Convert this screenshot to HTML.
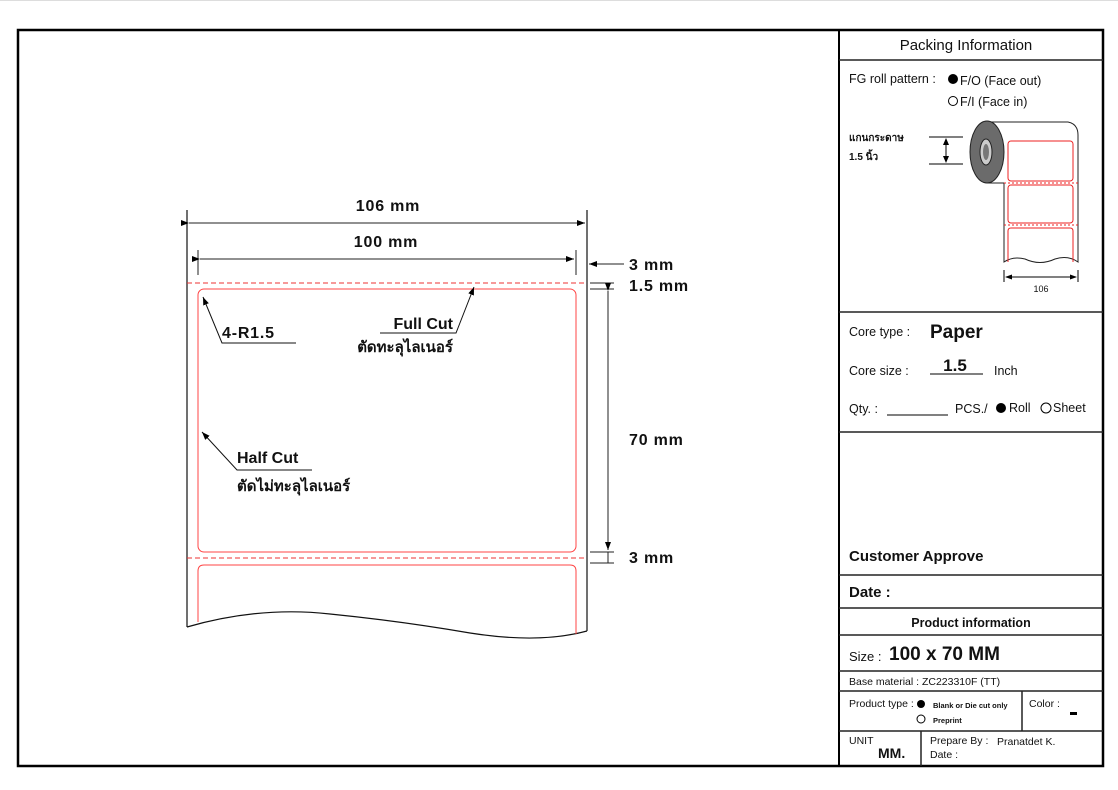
<!DOCTYPE html>
<html><head><meta charset="utf-8"><style>
html,body{margin:0;padding:0;background:#fff}
svg{display:block}
text{font-family:"Liberation Sans","Noto Sans CJK SC",sans-serif;fill:#111}
.b{font-weight:bold}
.d{letter-spacing:0.8px}
</style></head><body>
<svg width="1118" height="790" viewBox="0 0 1118 790" xmlns="http://www.w3.org/2000/svg">
<defs>
<marker id="a" markerWidth="8" markerHeight="6" refX="8" refY="3" orient="auto" markerUnits="userSpaceOnUse"><path d="M0,0 L8,3 L0,6z" fill="#000"/></marker>
</defs>
<line x1="0" y1="0.5" x2="1118" y2="0.5" stroke="#ddd"/>
<rect x="18" y="30" width="1085" height="736" fill="none" stroke="#000" stroke-width="2.5"/>
<line x1="839" y1="30" x2="839" y2="766" stroke="#000" stroke-width="2"/>
<g stroke="#222" stroke-width="1.5">
<line x1="839" y1="60" x2="1103" y2="60"/>
<line x1="839" y1="312" x2="1103" y2="312"/>
<line x1="839" y1="432" x2="1103" y2="432"/>
<line x1="839" y1="575" x2="1103" y2="575"/>
<line x1="839" y1="608" x2="1103" y2="608"/>
<line x1="839" y1="635" x2="1103" y2="635"/>
<line x1="839" y1="671" x2="1103" y2="671"/>
<line x1="839" y1="691" x2="1103" y2="691"/>
<line x1="839" y1="731" x2="1103" y2="731"/>
<line x1="1022" y1="691" x2="1022" y2="731"/>
<line x1="921" y1="731" x2="921" y2="766"/>
</g>
<text x="966" y="50" font-size="15" text-anchor="middle">Packing Information</text>
<text x="849" y="83" font-size="12.5">FG roll pattern :</text>
<circle cx="953" cy="79" r="5" fill="#000"/>
<text x="960" y="85" font-size="12.5">F/O (Face out)</text>
<circle cx="953" cy="101" r="4.5" fill="none" stroke="#000"/>
<text x="960" y="106" font-size="12.5">F/I (Face in)</text>
<text x="849" y="141" font-size="10" class="b">แกนกระดาษ</text>
<text x="849" y="160" font-size="10" class="b">1.5 นิ้ว</text>
<g stroke="#000" stroke-width="1">
<line x1="929" y1="137" x2="963" y2="137"/><line x1="929" y1="164" x2="963" y2="164"/>
<line x1="946" y1="140" x2="946" y2="161"/>
</g>
<path d="M946,138 l-3,7 h6z M946,163 l-3,-7 h6z" fill="#000"/>
<path d="M987,122 L1068,122 Q1078,124 1078,135 L1078,262 Q1068,255 1055,259 Q1040,266 1025,259 Q1013,256 1004,262 L1004,183 L987,183" fill="#fff" stroke="#222" stroke-width="1"/>
<ellipse cx="987" cy="152" rx="17" ry="31" fill="#6b6b6b" stroke="#222"/>
<ellipse cx="986" cy="152" rx="6" ry="13" fill="#ccc" stroke="#222"/>
<ellipse cx="986" cy="152" rx="3" ry="8" fill="#777"/>
<g fill="none" stroke="#e22" stroke-width="1">
<rect x="1008" y="141" width="65" height="40" rx="3"/>
<rect x="1008" y="185" width="65" height="38" rx="3"/>
<path d="M1008,262 V231 q0,-3 3,-3 H1070 q3,0 3,3 V262"/>
<line x1="1004" y1="183" x2="1078" y2="183" stroke-dasharray="2,2"/>
<line x1="1004" y1="225" x2="1078" y2="225" stroke-dasharray="2,2"/>
</g>
<g stroke="#000" stroke-width="1">
<line x1="1004" y1="270" x2="1004" y2="282"/><line x1="1078" y1="270" x2="1078" y2="282"/>
<line x1="1006" y1="277" x2="1076" y2="277"/>
</g>
<path d="M1005,277 l7,-2.5 v5z M1077,277 l-7,-2.5 v5z" fill="#000"/>
<text x="1041" y="292" font-size="9" text-anchor="middle">106</text>

<text x="849" y="336" font-size="12.5">Core type :</text>
<text x="930" y="338" font-size="19" class="b">Paper</text>
<text x="849" y="375" font-size="12.5">Core size :</text>
<text x="955" y="371" font-size="17" class="b" text-anchor="middle">1.5</text>
<line x1="930" y1="374" x2="983" y2="374" stroke="#000"/>
<text x="994" y="375" font-size="12.5">Inch</text>
<text x="849" y="413" font-size="12.5">Qty. :</text>
<line x1="887" y1="415" x2="948" y2="415" stroke="#000"/>
<text x="955" y="413" font-size="12.5">PCS./</text>
<circle cx="1001" cy="408" r="5" fill="#000"/>
<text x="1009" y="412" font-size="12.5">Roll</text>
<circle cx="1046" cy="408" r="5" fill="none" stroke="#000"/>
<text x="1053" y="412" font-size="12.5">Sheet</text>
<text x="849" y="561" font-size="15" class="b">Customer Approve</text>
<text x="849" y="597" font-size="15" class="b">Date :</text>
<text x="971" y="627" font-size="12.5" class="b" text-anchor="middle">Product information</text>
<text x="849" y="661" font-size="13">Size :</text>
<text x="889" y="660" font-size="19" class="b">100 x 70 MM</text>
<text x="849" y="685" font-size="10.5">Base material : ZC223310F (TT)</text>
<text x="849" y="707" font-size="10.5">Product type :</text>
<circle cx="921" cy="704" r="4" fill="#000"/>
<text x="933" y="708" font-size="7.5" class="b">Blank or Die cut only</text>
<circle cx="921" cy="719" r="4" fill="none" stroke="#000"/>
<text x="933" y="723" font-size="7.5" class="b">Preprint</text>
<text x="1029" y="707" font-size="10.5">Color :</text>
<rect x="1070" y="712" width="7" height="3" fill="#000"/>
<text x="849" y="744" font-size="10.5">UNIT</text>
<text x="878" y="758" font-size="14" class="b">MM.</text>
<text x="930" y="744" font-size="10.5">Prepare By :</text>
<text x="997" y="745" font-size="10.5">Pranatdet K.</text>
<text x="930" y="758" font-size="10.5">Date :</text>

<path d="M187,627 Q260,606 330,614 Q400,621 470,633 Q540,644 587,631" fill="none" stroke="#111" stroke-width="1.2"/>
<g stroke="#111" stroke-width="1.2">
<line x1="187" y1="210" x2="187" y2="627"/>
<line x1="587" y1="210" x2="587" y2="631"/>
</g>
<g stroke="#222" stroke-width="1">
<line x1="189" y1="223" x2="585" y2="223" marker-start="url(#a)" marker-end="url(#a)"/>
<line x1="198" y1="250" x2="198" y2="275"/>
<line x1="576" y1="250" x2="576" y2="275"/>
<line x1="200" y1="259" x2="574" y2="259" marker-start="url(#a)" marker-end="url(#a)"/>
<line x1="624" y1="264" x2="589" y2="264" marker-end="url(#a)"/>
<line x1="590" y1="283" x2="614" y2="283"/>
<line x1="590" y1="289" x2="614" y2="289"/>
<line x1="590" y1="552" x2="614" y2="552"/>
<line x1="590" y1="563" x2="614" y2="563"/>
<line x1="608" y1="291" x2="608" y2="550" marker-start="url(#a)" marker-end="url(#a)"/>
<line x1="608" y1="552" x2="608" y2="563"/>
</g>
<g fill="none" stroke-width="1">
<line x1="187" y1="283" x2="587" y2="283" stroke="#e33" stroke-dasharray="5,3"/>
<line x1="187" y1="558" x2="587" y2="558" stroke="#e33" stroke-dasharray="5,3"/>
<rect x="198" y="289" width="378" height="263" rx="6" stroke="#f44"/>
<path d="M198,622 V571 q0,-6 6,-6 H570 q6,0 6,6 V634" stroke="#f44"/>
</g>
<text x="388" y="211" font-size="16" class="b d" text-anchor="middle">106 mm</text>
<text x="386" y="247" font-size="16" class="b d" text-anchor="middle">100 mm</text>
<text x="629" y="270" font-size="16" class="b d">3 mm</text>
<text x="629" y="291" font-size="16" class="b d">1.5 mm</text>
<text x="629" y="445" font-size="16" class="b d">70 mm</text>
<text x="629" y="563" font-size="16" class="b d">3 mm</text>
<g stroke="#111" stroke-width="1" fill="none">
<polyline points="296,343 222,343 203,297" marker-end="url(#a)"/>
<polyline points="380,333 456,333 474,287" marker-end="url(#a)"/>
<polyline points="312,470 237,470 202,432" marker-end="url(#a)"/>
</g>
<text x="222" y="338" font-size="16" class="b d">4-R1.5</text>
<text x="453" y="329" font-size="16" class="b" text-anchor="end">Full Cut</text>
<text x="453" y="352" font-size="15" class="b" text-anchor="end">ตัดทะลุไลเนอร์</text>
<text x="237" y="463" font-size="16" class="b">Half Cut</text>
<text x="237" y="491" font-size="15" class="b">ตัดไม่ทะลุไลเนอร์</text>
</svg>
</body></html>
